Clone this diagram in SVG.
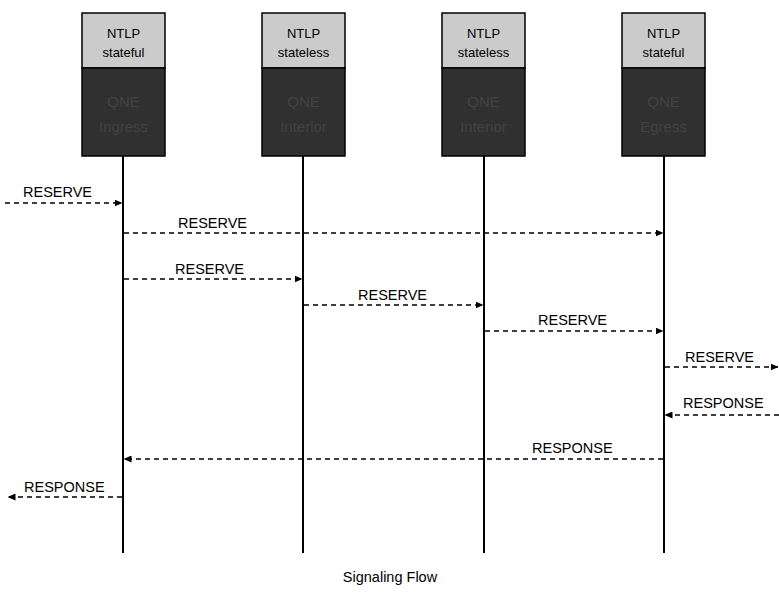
<svg xmlns="http://www.w3.org/2000/svg" width="779" height="594" viewBox="0 0 779 594">
  <style>
    .head { fill: #cbcbcb; stroke: #000; stroke-width: 1.5; }
    .body { fill: #303030; stroke: #000; stroke-width: 1.5; }
    .htxt { font-family: "Liberation Sans", Arial, sans-serif; font-size: 13px; fill: #000; text-anchor: middle; }
    .btxt { font-family: "Liberation Sans", Arial, sans-serif; font-size: 15px; fill: #424242; text-anchor: middle; }
    .life { stroke: #000; stroke-width: 2; }
    .msg { stroke: #000; stroke-width: 1.3; stroke-dasharray: 5 4; fill: none; marker-end: url(#arrow); }
    .lbl { font-family: "Liberation Sans", Arial, sans-serif; font-size: 14.5px; fill: #000; }
    .cap { font-family: "Liberation Sans", Arial, sans-serif; font-size: 14.5px; fill: #000; text-anchor: middle; }
  </style>
  <defs>
    <marker id="arrow" markerWidth="8" markerHeight="7" refX="7.5" refY="3.5" orient="auto" markerUnits="userSpaceOnUse">
      <path d="M0,0 L8,3.5 L0,7 Z" fill="#000"/>
    </marker>
  </defs>

  <rect width="779" height="594" fill="#fff"/>

  <!-- lifelines -->
  <g id="lifelines">
    <line class="life" x1="123" y1="156" x2="123" y2="553"/>
    <line class="life" x1="303" y1="156" x2="303" y2="553"/>
    <line class="life" x1="484" y1="156" x2="484" y2="553"/>
    <line class="life" x1="664" y1="156" x2="664" y2="553"/>
  </g>

  <!-- nodes -->
  <g id="qne-ingress">
    <rect class="head" x="82" y="13" width="83" height="55"/>
    <rect class="body" x="82" y="68" width="83" height="88"/>
    <text class="htxt" x="123.5" y="38">NTLP</text>
    <text class="htxt" x="123.5" y="57">stateful</text>
    <text class="btxt" x="123.5" y="107">QNE</text>
    <text class="btxt" x="123.5" y="132">Ingress</text>
  </g>
  <g id="qne-interior-1">
    <rect class="head" x="262" y="13" width="83" height="55"/>
    <rect class="body" x="262" y="68" width="83" height="88"/>
    <text class="htxt" x="303.5" y="38">NTLP</text>
    <text class="htxt" x="303.5" y="57">stateless</text>
    <text class="btxt" x="303.5" y="107">QNE</text>
    <text class="btxt" x="303.5" y="132">Interior</text>
  </g>
  <g id="qne-interior-2">
    <rect class="head" x="442" y="13" width="83" height="55"/>
    <rect class="body" x="442" y="68" width="83" height="88"/>
    <text class="htxt" x="483.5" y="38">NTLP</text>
    <text class="htxt" x="483.5" y="57">stateless</text>
    <text class="btxt" x="483.5" y="107">QNE</text>
    <text class="btxt" x="483.5" y="132">Interior</text>
  </g>
  <g id="qne-egress">
    <rect class="head" x="622" y="13" width="83" height="55"/>
    <rect class="body" x="622" y="68" width="83" height="88"/>
    <text class="htxt" x="663.5" y="38">NTLP</text>
    <text class="htxt" x="663.5" y="57">stateful</text>
    <text class="btxt" x="663.5" y="107">QNE</text>
    <text class="btxt" x="663.5" y="132">Egress</text>
  </g>

  <!-- messages -->
  <g id="connectors">
    <line class="msg" x1="5" y1="203" x2="122" y2="203"/>
    <line class="msg" x1="124" y1="233" x2="663" y2="233"/>
    <line class="msg" x1="124" y1="279" x2="302" y2="279"/>
    <line class="msg" x1="304" y1="305" x2="483" y2="305"/>
    <line class="msg" x1="485" y1="331" x2="663" y2="331"/>
    <line class="msg" x1="665" y1="367" x2="778" y2="367"/>
    <line class="msg" x1="779" y1="415" x2="665" y2="415"/>
    <line class="msg" x1="663" y1="459" x2="124" y2="459"/>
    <line class="msg" x1="122" y1="497" x2="8" y2="497"/>
  </g>

  <g id="labels">
    <text class="lbl" x="23" y="197">RESERVE</text>
    <text class="lbl" x="178" y="228">RESERVE</text>
    <text class="lbl" x="175" y="274">RESERVE</text>
    <text class="lbl" x="358" y="300">RESERVE</text>
    <text class="lbl" x="538" y="325">RESERVE</text>
    <text class="lbl" x="685" y="362">RESERVE</text>
    <text class="lbl" x="683" y="408">RESPONSE</text>
    <text class="lbl" x="532" y="453">RESPONSE</text>
    <text class="lbl" x="24" y="492">RESPONSE</text>
  </g>

  <text class="cap" x="390" y="582">Signaling Flow</text>
</svg>
